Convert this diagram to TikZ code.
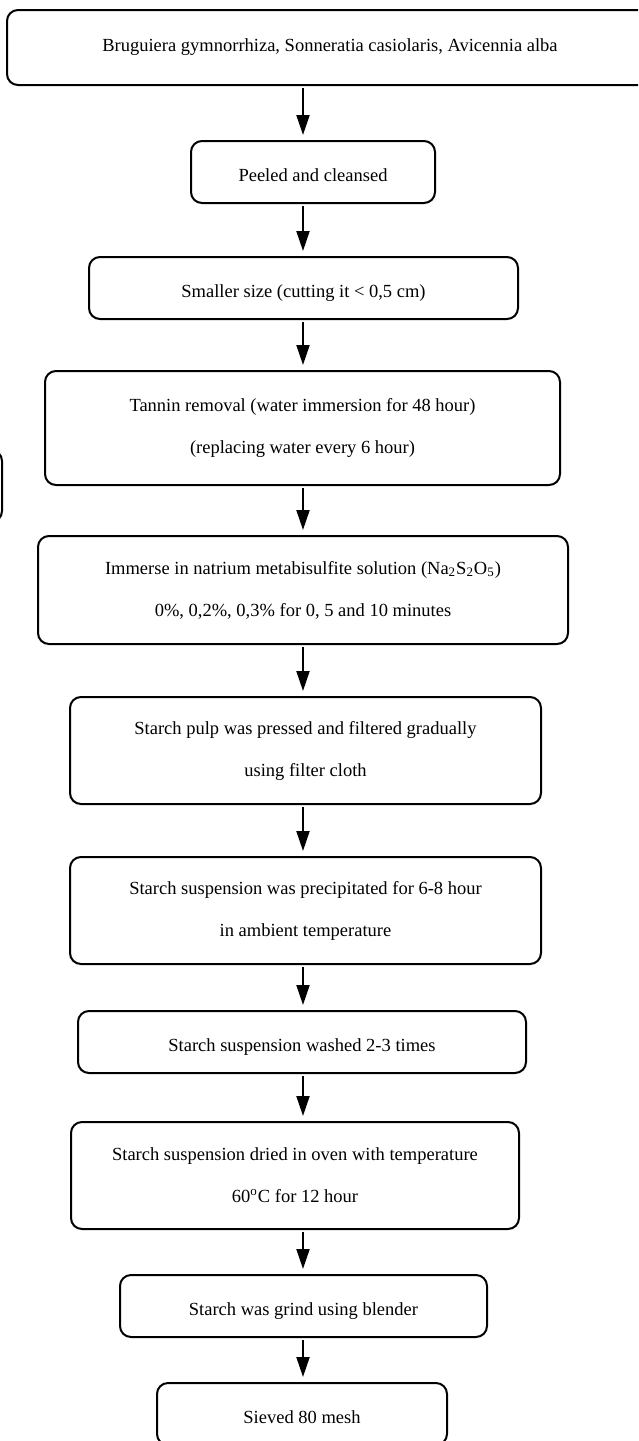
\documentclass[tikz,border=0pt]{standalone}
\usepackage{fontspec}
\setmainfont{Liberation Serif}
\usetikzlibrary{arrows.meta}
\tikzset{
  stepbox/.style={draw,line width=1pt,rounded corners=5.5pt,align=center,inner sep=0pt,
    font=\fontsize{9.25}{21}\selectfont},
  onerow/.style={text height=9.3pt,text depth=0pt},
  flow/.style={-{Triangle[width=6.5pt,length=10pt]},line width=1pt,shorten <=1pt,shorten >=2.5pt}
}
\begin{document}
\begin{tikzpicture}[x=0.5pt,y=-0.5pt]
\useasboundingbox (0,0) rectangle (638,1441);
\clip (0,0) rectangle (638,1441);
\fill[white] (0,0) rectangle (638,1441);
\coordinate (axis) at (303,0);
\draw[line width=1pt,rounded corners=5.5pt] (-30,450) rectangle (2,522);

\node[stepbox,minimum width=323pt,minimum height=37.5pt] (source) at (330,47.5)
  {Bruguiera gymnorrhiza, Sonneratia casiolaris, Avicennia alba};
\node[stepbox,onerow,minimum width=122pt,minimum height=31pt] (peel) at (313,172)
  {Peeled and cleansed};
\node[stepbox,onerow,minimum width=214.5pt,minimum height=31pt] (cut) at (303.5,288)
  {Smaller size (cutting it < 0,5 cm)};
\node[stepbox,minimum width=257.5pt,minimum height=57pt] (tannin) at (302.5,428)
  {Tannin removal (water immersion for 48 hour)\\(replacing water every 6 hour)};
\node[stepbox,minimum width=265pt,minimum height=54pt] (immerse) at (303,590)
  {Immerse in natrium metabisulfite solution (Na\textsubscript{2}S\textsubscript{2}O\textsubscript{5})\\0\%, 0,2\%, 0,3\% for 0, 5 and 10 minutes};
\node[stepbox,minimum width=235.5pt,minimum height=53.5pt] (pulp) at (305.5,750.5)
  {Starch pulp was pressed and filtered gradually\\using filter cloth};
\node[stepbox,minimum width=235.5pt,minimum height=53.5pt] (settle) at (305.5,910.5)
  {Starch suspension was precipitated for 6-8 hour\\in ambient temperature};
\node[stepbox,onerow,minimum width=224pt,minimum height=31pt] (wash) at (302,1042)
  {Starch suspension washed 2-3 times};
\node[stepbox,minimum width=224pt,minimum height=53.5pt] (dry) at (295,1175.5)
  {Starch suspension dried in oven with temperature\\60\textsuperscript{o}C for 12 hour};
\node[stepbox,onerow,minimum width=183.5pt,minimum height=31pt] (grind) at (303.5,1306)
  {Starch was grind using blender};
\node[stepbox,onerow,minimum width=145pt,minimum height=31pt] (sieve) at (302,1414)
  {Sieved 80 mesh};

\draw[flow] (source.south -| axis) -- (peel.north -| axis);
\draw[flow] (peel.south -| axis) -- (cut.north -| axis);
\draw[flow] (cut.south -| axis) -- (tannin.north -| axis);
\draw[flow] (tannin.south -| axis) -- (immerse.north -| axis);
\draw[flow] (immerse.south -| axis) -- (pulp.north -| axis);
\draw[flow] (pulp.south -| axis) -- (settle.north -| axis);
\draw[flow] (settle.south -| axis) -- (wash.north -| axis);
\draw[flow] (wash.south -| axis) -- (dry.north -| axis);
\draw[flow] (dry.south -| axis) -- (grind.north -| axis);
\draw[flow] (grind.south -| axis) -- (sieve.north -| axis);
\end{tikzpicture}
\end{document}
